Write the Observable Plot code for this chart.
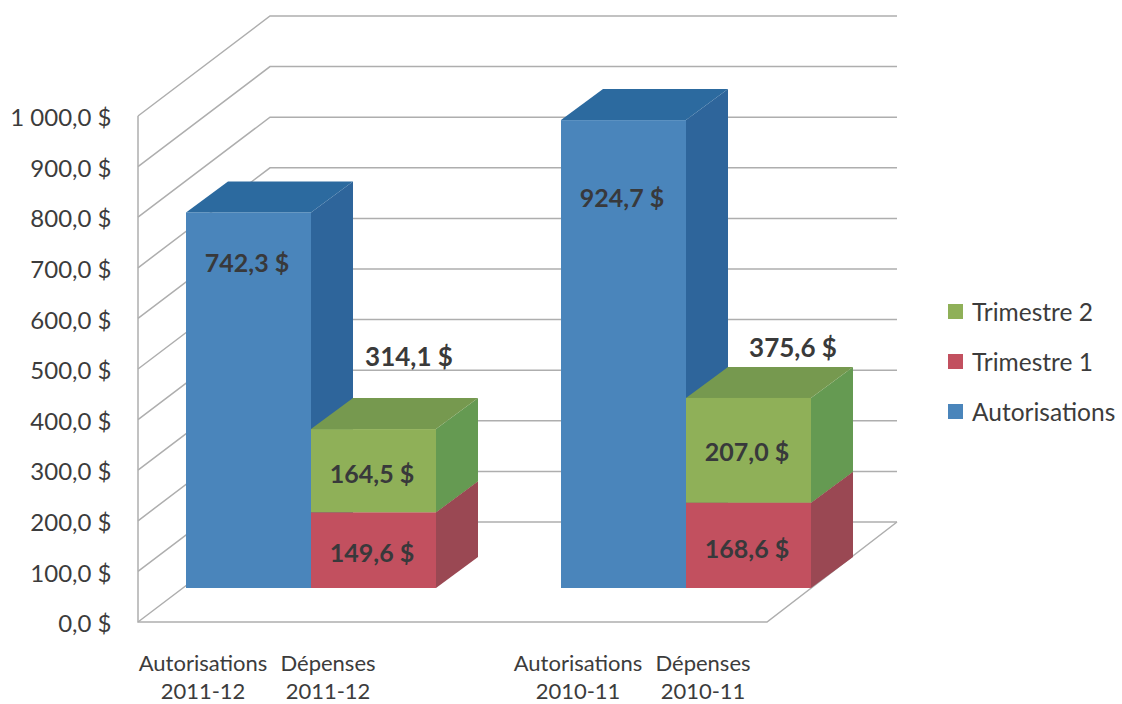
<!DOCTYPE html>
<html><head><meta charset="utf-8">
<script src="https://cdn.jsdelivr.net/npm/d3@7"></script>
<script src="https://cdn.jsdelivr.net/npm/@observablehq/plot@0.6"></script>
<style>
html,body{margin:0;padding:0;background:#fff;}
#wrap{position:relative;width:1122px;height:704px;overflow:hidden;font-family:Lato,"Open Sans",sans-serif;}
#legend{position:absolute;left:948px;top:286px;color:#3c3c3c;font-size:24.5px;white-space:nowrap;}
#legend div{display:flex;align-items:center;height:50px;margin:0;}
#legend i{display:inline-block;width:15px;height:15px;margin-right:9px;}
svg [aria-label="x-axis tick label"] text{letter-spacing:.45px;}
</style></head>
<body><div id="wrap"><div id="chart"></div><div id="legend"></div></div>
<script>
const categories = ["Autorisations\n2011-12", "Dépenses\n2011-12", " ", "Autorisations\n2010-11", "Dépenses\n2010-11"];
const seriesNames = ["Autorisations", "Trimestre 1", "Trimestre 2"];
const barCategories = [categories[0], categories[1], categories[1], categories[3], categories[4], categories[4]];
const barSeries = ["Autorisations", "Trimestre 1", "Trimestre 2", "Autorisations", "Trimestre 1", "Trimestre 2"];
const barValues = [742.3, 149.6, 164.5, 924.7, 168.6, 207.0];
const labelHeights = [642, 69, 224, 770, 77, 267];
const totalCategories = [categories[1], categories[4]];
const totalValues = [314.1, 375.6];
const totalHeights = [456, 474];
const yTicks = [0, 100, 200, 300, 400, 500, 600, 700, 800, 900, 1000];
const frontColors = ["#4a85bb", "#c2505f", "#8fb058"];
const topColors = ["#2c6a9f", "#a84a58", "#76994f"];
const sideColors = ["#2e659b", "#9a4853", "#659a52"];
const legendOrder = ["Trimestre 2", "Trimestre 1", "Autorisations"];

const fmt = v => {
  const s = v.toFixed(1).replace(".", ",");
  const [i, d] = s.split(",");
  return (i.length > 3 ? i.slice(0, -3) + " " + i.slice(-3) : i) + "," + d + " $";
};

// stack rows
const base = new Map();
const rows = barValues.map((v, i) => {
  const c = barCategories[i], y1 = base.get(c) || 0, y2 = y1 + v;
  base.set(c, y2);
  return {category: c, series: barSeries[i], value: v, y1, y2, labelY: labelHeights[i], idx: seriesNames.indexOf(barSeries[i])};
});
const totals = totalCategories.map((c, i) => ({category: c, value: totalValues[i], labelY: totalHeights[i]}));

// projection of the 3-D box
const wallDx = 132, wallDy = -100;   // front plane to back wall
const barDx = 46, barDy = -34;       // front plane to bar face
const depthDx = 42, depthDy = -31;   // bar face to bar rear
const totalDx = [81, 90];            // label placement of the two totals

const svgEl = (tag, attrs) => {
  const e = document.createElementNS("http://www.w3.org/2000/svg", tag);
  for (const k in attrs) e.setAttribute(k, attrs[k]);
  return e;
};

function walls(index, scales, values, dims) {
  const g = svgEl("g", {fill: "none", stroke: "#aeaeae", "stroke-width": 1.5});
  const xL = dims.marginLeft, xR = dims.width - dims.marginRight;
  for (const t of yTicks) {
    const y = scales.y(t);
    g.append(svgEl("path", {d: `M${xL},${y}L${xL + wallDx},${y + wallDy}L${xR + wallDx - 2},${y + wallDy}`}));
  }
  const y0 = scales.y(0), yT = scales.y(yTicks[yTicks.length - 1]);
  g.append(svgEl("path", {d: `M${xL},${yT}L${xL},${y0}L${xR},${y0}L${xR + wallDx - 2},${y0 + wallDy}`}));
  return g;
}

function depthFaces(index, scales) {
  const g = svgEl("g", {});
  const bw = scales.x.bandwidth();
  for (const r of rows) {
    const xa = scales.x(r.category) + barDx, xb = xa + bw;
    const y1 = scales.y(r.y1) + barDy, y2 = scales.y(r.y2) + barDy;
    g.append(svgEl("path", {fill: sideColors[r.idx],
      d: `M${xb},${y1}L${xb + depthDx},${y1 + depthDy}L${xb + depthDx},${y2 + depthDy}L${xb},${y2}Z`}));
    g.append(svgEl("path", {fill: topColors[r.idx],
      d: `M${xa},${y2}L${xa + depthDx},${y2 + depthDy}L${xb + depthDx},${y2 + depthDy}L${xb},${y2}Z`}));
  }
  return g;
}

const chart = Plot.plot({
  width: 1122, height: 704,
  marginLeft: 138, marginRight: 355, marginTop: 116, marginBottom: 82,
  style: {fontFamily: "Lato, 'Open Sans', sans-serif", background: "#fff"},
  x: {type: "band", domain: categories, padding: 0, align: 0.5, label: null},
  y: {domain: [0, 1000], label: null},
  color: {domain: seriesNames, range: frontColors},
  marks: [
    walls,
    Plot.axisY({ticks: yTicks, tickFormat: fmt, tickSize: 0, tickPadding: 27, dy: 2, fontSize: 24, fill: "#3c3c3c", label: null}),
    Plot.axisX({tickSize: 0, tickPadding: 28, fontSize: 22, lineHeight: 1.3, fill: "#3c3c3c", label: null, ariaLabel: "x-axis tick label"}),
    depthFaces,
    Plot.barY(rows, {x: "category", y1: "y1", y2: "y2", fill: "series", dx: barDx, dy: barDy}),
    Plot.text(rows, {x: "category", y: "labelY", text: d => fmt(d.value), dx: barDx - 2, dy: barDy, fontSize: 25, fontWeight: 700, fill: "#38393b"}),
    ...totals.map((t, i) => Plot.text([t], {x: "category", y: "labelY", text: d => fmt(d.value), dx: totalDx[i], dy: barDy, fontSize: 26, fontWeight: 700, fill: "#3a3a3a"}))
  ]
});
document.getElementById("chart").append(chart);

const legend = document.getElementById("legend");
for (const name of legendOrder) {
  const row = document.createElement("div");
  const sw = document.createElement("i");
  sw.style.background = frontColors[seriesNames.indexOf(name)];
  row.append(sw, name);
  legend.append(row);
}
</script></body></html>
